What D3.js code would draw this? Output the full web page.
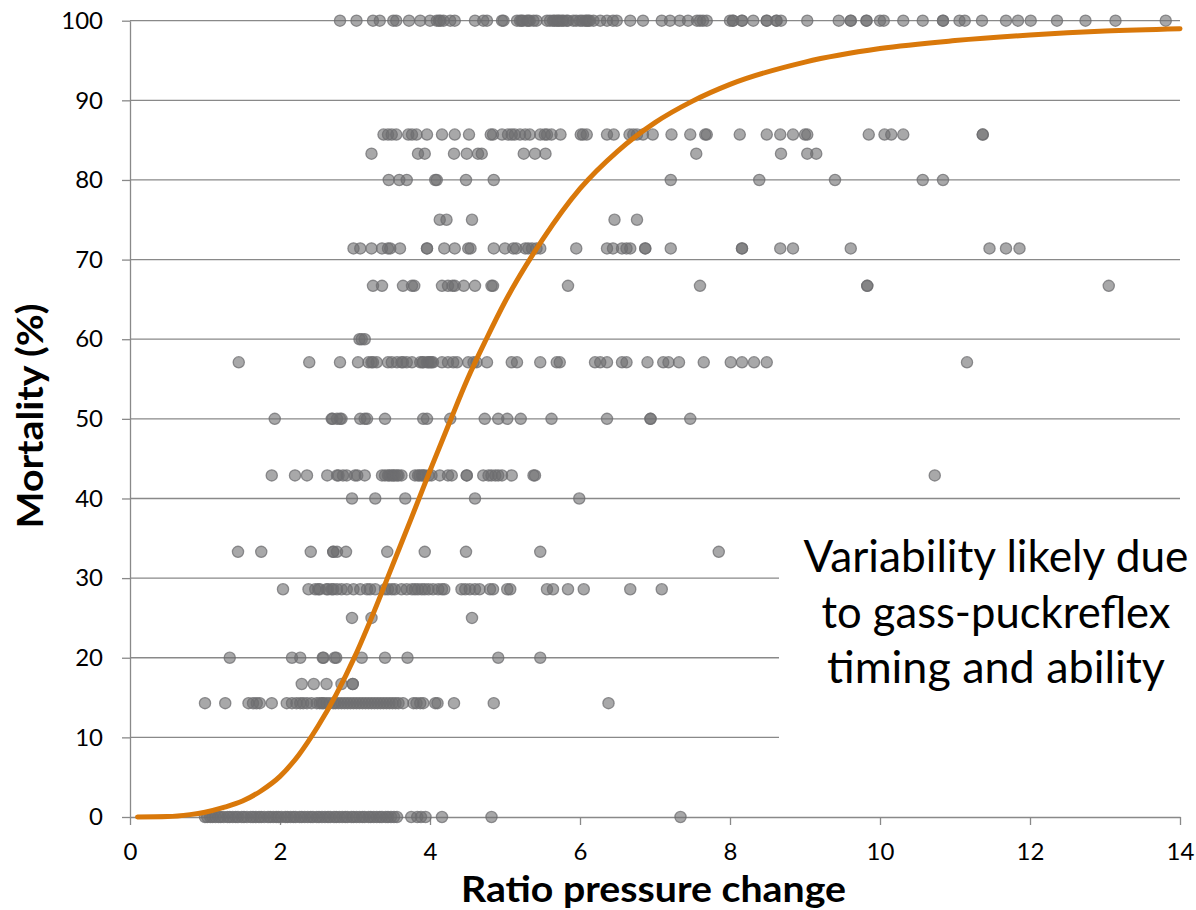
<!DOCTYPE html>
<html>
<head>
<meta charset="utf-8">
<script src="https://cdn.jsdelivr.net/npm/d3@7"></script>
<style>
    body { margin: 0; background: #fff; }
    svg { display: block; }
    .axis path, .axis line { stroke: #898989; stroke-width: 1.3px; }
    .axis text { font-family: Lato, "Liberation Sans", sans-serif; font-size: 24px; fill: #000; }
</style>
</head>
<body>
<div id="chart"></div>
<script>
// mortality levels (rows of the scatter) and the pressure ratios observed on each row
var levels = [100, 85.7, 83.3, 80, 75, 71.4, 66.7, 60, 57.1, 50, 42.9, 40, 33.3, 28.6, 25, 20, 16.7, 14.3, 0];

var row100 = [2.80, 3.02, 3.24, 3.33, 3.51, 3.55, 3.72, 3.87, 4.00, 4.09, 4.12, 4.14, 4.18, 4.27, 4.33, 4.60, 4.71, 4.76,
    4.96, 4.98, 5.16, 5.20, 5.22, 5.24, 5.29, 5.31, 5.33, 5.38, 5.42, 5.56, 5.60, 5.64, 5.66, 5.69, 5.71, 5.73, 5.76,
    5.78, 5.82, 5.84, 5.91, 5.95, 6.00, 6.03, 6.07, 6.09, 6.11, 6.13, 6.18, 6.27, 6.36, 6.44, 6.49, 6.67, 6.84, 7.09,
    7.20, 7.33, 7.44, 7.56, 7.60, 7.64, 7.69, 8.00, 8.04, 8.04, 8.16, 8.16, 8.31, 8.49, 8.49, 8.62, 8.62, 8.68, 9.03,
    9.45, 9.61, 9.61, 9.82, 9.82, 10.00, 10.05, 10.31, 10.57, 10.84, 10.84, 11.06, 11.13, 11.36, 11.68, 11.84, 12.01,
    12.36, 12.74, 13.14, 13.81];
var row857 = [3.38, 3.44, 3.49, 3.55, 3.71, 3.76, 3.82, 3.96, 4.16, 4.33, 4.52, 4.81, 4.84, 4.96, 5.04, 5.09, 5.13,
    5.20, 5.27, 5.33, 5.47, 5.53, 5.56, 5.62, 5.74, 6.01, 6.04, 6.09, 6.36, 6.45, 6.66, 6.71, 6.76, 6.84, 6.97, 7.22,
    7.47, 7.67, 7.69, 8.13, 8.49, 8.67, 8.84, 9.00, 9.03, 9.85, 10.06, 10.15, 10.31, 11.37, 11.37];
var row833 = [3.22, 3.84, 3.93, 4.32, 4.49, 4.64, 4.69, 5.25, 5.40, 5.54, 7.55, 8.68, 9.03, 9.15];
var row80 = [3.45, 3.59, 3.69, 4.07, 4.09, 4.48, 4.85, 7.21, 8.39, 9.40, 10.57, 10.84];
var row75 = [4.13, 4.22, 4.56, 6.46, 6.76];
var row714 = [2.98, 3.07, 3.22, 3.36, 3.44, 3.47, 3.60, 3.96, 3.96, 4.19, 4.33, 4.51, 4.54, 4.85, 5.00, 5.11, 5.15,
    5.27, 5.31, 5.36, 5.42, 5.47, 5.95, 6.36, 6.44, 6.56, 6.62, 6.67, 6.87, 6.87, 7.21, 8.16, 8.16, 8.67, 8.84, 9.61,
    11.46, 11.68, 11.86];
var row667 = [3.24, 3.36, 3.64, 3.76, 3.79, 4.16, 4.24, 4.30, 4.33, 4.45, 4.60, 4.82, 4.84, 5.84, 7.60, 9.83, 9.83, 13.05];
var row60 = [3.06, 3.09, 3.13];
var row571 = [1.45, 2.39, 2.80, 3.04, 3.18, 3.22, 3.24, 3.29, 3.44, 3.49, 3.56, 3.62, 3.64, 3.69, 3.76, 3.87, 3.90,
    3.91, 3.96, 3.98, 4.00, 4.02, 4.04, 4.16, 4.24, 4.31, 4.36, 4.51, 4.58, 4.62, 4.76, 5.09, 5.16, 5.47, 5.69, 5.73,
    6.20, 6.27, 6.36, 6.56, 6.62, 6.90, 7.11, 7.18, 7.32, 7.65, 8.01, 8.16, 8.32, 8.49, 11.16];
var row50 = [1.93, 2.69, 2.70, 2.76, 2.80, 2.82, 3.07, 3.13, 3.16, 3.40, 3.91, 3.96, 4.27, 4.73, 4.91, 5.03, 5.21,
    5.62, 6.36, 6.94, 6.94, 7.47];
var row429 = [1.89, 2.20, 2.36, 2.63, 2.76, 2.78, 2.84, 2.89, 3.00, 3.03, 3.13, 3.36, 3.40, 3.44, 3.46, 3.49, 3.51,
    3.53, 3.56, 3.58, 3.62, 3.80, 3.84, 3.86, 3.89, 3.91, 3.93, 3.98, 4.02, 4.13, 4.24, 4.29, 4.49, 4.49, 4.71, 4.78,
    4.82, 4.87, 4.91, 4.96, 5.09, 5.38, 5.40, 10.73];
var row40 = [2.96, 3.27, 3.67, 4.60, 5.99];
var row333 = [1.44, 1.75, 2.41, 2.71, 2.71, 2.76, 2.88, 3.43, 3.93, 4.48, 5.47, 7.85];
var row286 = [2.04, 2.38, 2.47, 2.51, 2.53, 2.62, 2.64, 2.69, 2.71, 2.76, 2.82, 2.89, 2.98, 3.07, 3.16, 3.20, 3.27,
    3.40, 3.44, 3.49, 3.53, 3.62, 3.69, 3.76, 3.80, 3.84, 3.89, 3.93, 3.98, 4.04, 4.11, 4.16, 4.19, 4.42, 4.47, 4.53,
    4.60, 4.66, 4.80, 4.84, 5.03, 5.07, 5.56, 5.64, 5.84, 6.05, 6.67, 7.09];
var row25 = [2.96, 3.22, 4.56];
var row20 = [1.33, 2.16, 2.27, 2.57, 2.58, 2.73, 2.75, 3.09, 3.40, 3.70, 4.91, 5.47];
var row167 = [2.29, 2.45, 2.62, 2.82, 2.97, 2.97];
var row143 = [1.00, 1.27, 1.58, 1.64, 1.69, 1.73, 1.89, 2.09, 2.16, 2.22, 2.27, 2.31, 2.36, 2.42, 2.49, 2.53, 2.56,
    2.58, 2.62, 2.66, 2.71, 2.74, 2.78, 2.82, 2.86, 2.90, 2.94, 2.98, 3.02, 3.06, 3.10, 3.14, 3.18, 3.22, 3.26, 3.30,
    3.34, 3.38, 3.42, 3.46, 3.50, 3.54, 3.58, 3.64, 3.78, 3.82, 3.87, 3.91, 4.07, 4.10, 4.32, 4.85, 6.38];
var row0 = [1.00, 1.03, 1.07, 1.10, 1.14, 1.18, 1.21, 1.25, 1.30, 1.33, 1.37, 1.41, 1.44, 1.49, 1.52, 1.56, 1.61,
    1.64, 1.68, 1.72, 1.75, 1.79, 1.84, 1.87, 1.91, 1.95, 1.98, 2.02, 2.07, 2.10, 2.14, 2.18, 2.21, 2.26, 2.29, 2.33,
    2.37, 2.41, 2.44, 2.49, 2.52, 2.56, 2.60, 2.64, 2.67, 2.72, 2.75, 2.79, 2.83, 2.87, 2.90, 2.95, 2.98, 3.02, 3.06,
    3.10, 3.13, 3.18, 3.21, 3.25, 3.29, 3.33, 3.36, 3.41, 3.44, 3.48, 3.52, 3.56, 3.75, 3.83, 3.88, 3.94, 4.16, 4.82, 7.34];

var rows = [row100, row857, row833, row80, row75, row714, row667, row60, row571, row50, row429, row40, row333,
    row286, row25, row20, row167, row143, row0];

// fitted dose-response curve
var curveX = [0.1, 0.5, 0.8, 1.0, 1.25, 1.5, 1.75, 2.0, 2.25, 2.5, 2.75, 3.0, 3.25, 3.5, 3.75, 4.0, 4.25, 4.5,
    4.75, 5.0, 5.5, 6.0, 6.5, 7.0, 7.5, 8.0, 9.0, 10, 11, 12, 13, 14];
var curveY = [0, 0.05, 0.3, 0.6, 1.2, 2.0, 3.3, 5.1, 7.8, 11.3, 15.4, 20.2, 25.7, 31.6, 37.5, 43.5, 49.3, 55.0,
    60.0, 64.7, 72.5, 78.9, 83.6, 87.2, 89.9, 92.0, 94.8, 96.5, 97.5, 98.2, 98.7, 99.0];

var xTicks = [0, 2, 4, 6, 8, 10, 12, 14];
var yTicks = [0, 10, 20, 30, 40, 50, 60, 70, 80, 90, 100];

var noteLines = ["Variability likely due", "to gass-puckreflex", "timing and ability"];

var width = 1196, height = 910;
var margin = {top: 20.7, right: 16, bottom: 93, left: 130};

var svg = d3.select("#chart").append("svg")
    .attr("width", width)
    .attr("height", height);

var xScale = d3.scaleLinear()
    .domain([0, 14])
    .range([margin.left, width - margin.right]);

var yScale = d3.scaleLinear()
    .domain([0, 100])
    .range([height - margin.bottom, margin.top]);

// horizontal gridlines
svg.append("g")
    .selectAll("line")
    .data(yTicks.slice(1))
    .enter().append("line")
    .attr("x1", xScale(0))
    .attr("x2", xScale(14))
    .attr("y1", function (d) { return yScale(d); })
    .attr("y2", function (d) { return yScale(d); })
    .style("stroke", "#898989")
    .style("stroke-width", 1.3);

// white box behind the annotation hides part of the gridlines
svg.append("rect")
    .attr("x", 779)
    .attr("y", yScale(38.5))
    .attr("width", width - 779)
    .attr("height", yScale(8.8) - yScale(38.5))
    .style("fill", "#fff");

var xAxis = d3.axisBottom(xScale)
    .tickValues(xTicks)
    .tickSize(8)
    .tickPadding(20)
    .tickSizeOuter(0);

var yAxis = d3.axisLeft(yScale)
    .tickValues(yTicks)
    .tickSize(8)
    .tickPadding(19)
    .tickSizeOuter(0);

svg.append("g")
    .attr("class", "axis x")
    .attr("transform", "translate(0," + yScale(0) + ")")
    .call(xAxis);

svg.append("g")
    .attr("class", "axis y")
    .attr("transform", "translate(" + xScale(0) + ",0)")
    .call(yAxis);

svg.selectAll(".axis.x text").attr("dy", "0");
svg.selectAll(".axis.x text").attr("y", 43);

// scatter points
var points = [];
for (var i = 0; i < rows.length; i++) {
    for (var j = 0; j < rows[i].length; j++) {
        points.push({x: rows[i][j], y: levels[i]});
    }
}

svg.append("g")
    .selectAll("circle")
    .data(points)
    .enter().append("circle")
    .attr("cx", function (d) { return xScale(d.x); })
    .attr("cy", function (d) { return yScale(d.y); })
    .attr("r", 5.6)
    .style("fill", "#6e6e70")
    .style("fill-opacity", 0.6)
    .style("stroke", "#6e6e70")
    .style("stroke-opacity", 0.75)
    .style("stroke-width", 1.3);

// fitted curve
var line = d3.line()
    .x(function (d) { return xScale(d[0]); })
    .y(function (d) { return yScale(d[1]); })
    .curve(d3.curveMonotoneX);

svg.append("path")
    .datum(curveX.map(function (x, k) { return [x, curveY[k]]; }))
    .attr("d", line)
    .style("fill", "none")
    .style("stroke", "#d9780a")
    .style("stroke-width", 5)
    .style("stroke-linecap", "round");

// axis titles
svg.append("text")
    .attr("x", 653.5)
    .attr("y", 902)
    .attr("text-anchor", "middle")
    .attr("textLength", 385)
    .attr("lengthAdjust", "spacingAndGlyphs")
    .style("font-family", "Lato, 'Liberation Sans', sans-serif")
    .style("font-weight", "bold")
    .style("font-size", "36px")
    .text("Ratio pressure change");

svg.append("text")
    .attr("transform", "translate(43,416) rotate(-90)")
    .attr("text-anchor", "middle")
    .attr("textLength", 225)
    .attr("lengthAdjust", "spacingAndGlyphs")
    .style("font-family", "Lato, 'Liberation Sans', sans-serif")
    .style("font-weight", "bold")
    .style("font-size", "36px")
    .text("Mortality (%)");

// annotation
var noteWidths = [385, 349, 338];
for (var index = 0; index < noteLines.length; index++) {
    svg.append("text")
        .attr("x", 996)
        .attr("y", 572 + 55.5 * index)
        .attr("text-anchor", "middle")
        .attr("textLength", noteWidths[index])
        .attr("lengthAdjust", "spacingAndGlyphs")
        .style("font-family", "Lato, 'Liberation Sans', sans-serif")
        .style("font-size", "44px")
        .style("fill", "#000")
        .text(noteLines[index]);
}
</script>
</body>
</html>
